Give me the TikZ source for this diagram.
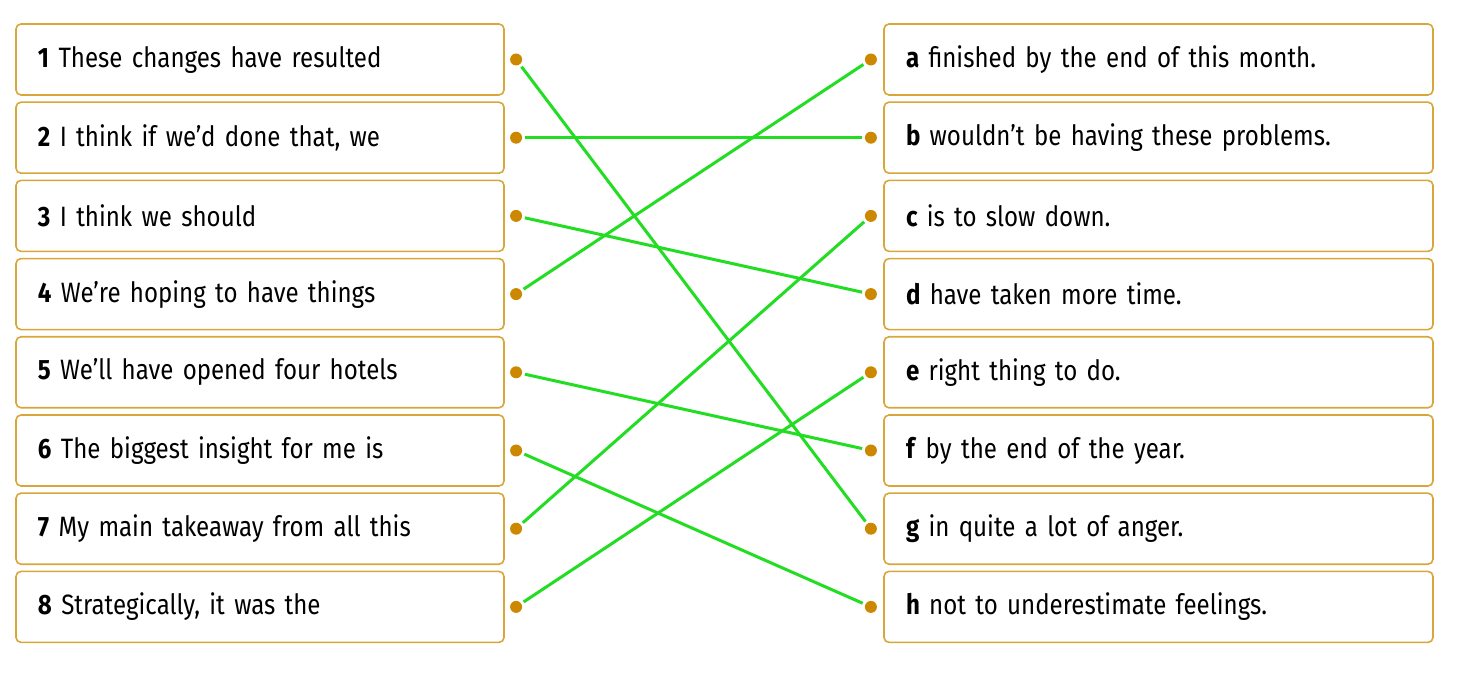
\documentclass[tikz,border=0pt]{standalone}
\usepackage{fontspec}
\setmainfont{Fira Sans}[FakeStretch=0.86,WordSpace=0.8]
\usetikzlibrary{positioning}
\definecolor{boxgold}{RGB}{217,166,58}
\definecolor{dotgold}{RGB}{204,136,0}
\definecolor{linkgreen}{RGB}{34,221,34}
\begin{document}
\begin{tikzpicture}[x=0.5pt,y=-0.5pt,
item/.style={draw=boxgold,line width=0.8pt,rounded corners=2.5pt,fill=white,
  inner xsep=11pt,align=left,minimum height=35.5pt,font=\fontsize{14}{16}\selectfont},
lbox/.style={item,text width=222pt},
rbox/.style={item,text width=252.5pt},
dot/.style={circle,fill=dotgold,inner sep=0pt,minimum size=6pt,outer sep=1.5pt},
link/.style={linkgreen,line width=1.5pt}]
\useasboundingbox (0,0) rectangle (1473,678);
% left column
\foreach \n/\txt [count=\i] in {1/These changes have resulted,
    2/{I think if we’d done that, we},
    3/I think we should,
    4/We’re hoping to have things,
    5/We’ll have opened four hotels,
    6/The biggest insight for me is,
    7/My main takeaway from all this,
    8/{Strategically, it was the}}{
  \node[lbox] (l\n) at (260,{59.5+(\i-1)*78.2}) {\textbf{\n} \txt};
  \node[dot,right=1.15pt of l\n] (p\n) {};
}
% right column
\foreach \c/\txt [count=\i] in {a/finished by the end of this month.,
    b/wouldn’t be having these problems.,
    c/is to slow down.,
    d/have taken more time.,
    e/right thing to do.,
    f/by the end of the year.,
    g/in quite a lot of anger.,
    h/not to underestimate feelings.}{
  \node[rbox] (r\c) at (1158.5,{59.5+(\i-1)*78.2}) {\textbf{\c} \txt};
  \node[dot,left=1.65pt of r\c] (q\c) {};
}
% matches
\foreach \a/\b in {1/g,2/b,3/d,4/a,5/f,6/h,7/c,8/e}
  \draw[link] (p\a) -- (q\b);
\end{tikzpicture}
\end{document}
